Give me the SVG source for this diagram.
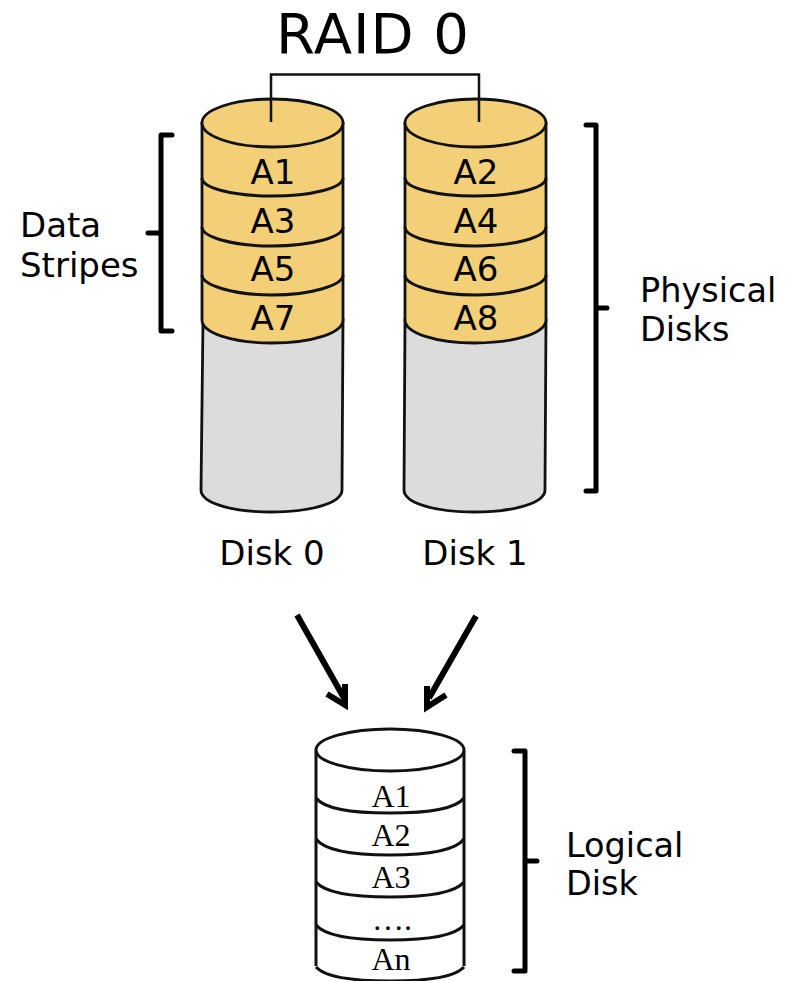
<svg xmlns="http://www.w3.org/2000/svg" width="787" height="981" viewBox="0 0 787 981">
<style>
.s{stroke:#111;stroke-width:3;fill:none}
.y{fill:#f3d078;stroke:#111;stroke-width:2.8}
.g{fill:#dcdcdc;stroke:#111;stroke-width:2.8}
.b{stroke:#000;stroke-width:5;fill:none;stroke-linecap:round;stroke-linejoin:round}
.a{stroke:#000;stroke-width:6;fill:none;stroke-linejoin:miter}
.t{font-family:"DejaVu Sans",sans-serif;fill:#000}
.l{font-size:33.500px}
.l2{font-size:34px}
.d{font-size:34px;text-anchor:middle}
.k{font-size:34px;text-anchor:middle}
.r{font-family:"Liberation Serif",serif;font-size:32px;text-anchor:middle;fill:#000}
</style>
<rect width="787" height="981" fill="#fff"/>
<text class="t" x="373" y="53" font-size="56" letter-spacing="1" text-anchor="middle">RAID 0</text>
<g id="disk0">
<path class="g" d="M203 320L201 490C201 503 232 512 271 512C311 512 342 503 342 490L343 320Z"/>
<path class="y" d="M202 123V320C202 333 233 343 272 343C312 343 343 333 343 320V123Z"/>
<path class="s" d="M202 275C202 285 233 295 272 295C312 295 343 285 343 275M202 227C202 237 233 246 272 246C312 246 343 237 343 227M202 178C202 188 233 196 272 196C312 196 343 188 343 178"/>
<ellipse class="y" cx="272.500" cy="123" rx="70.500" ry="24"/>
<text class="t d" x="273" y="184">A1</text><text class="t d" x="273" y="233">A3</text><text class="t d" x="273" y="281">A5</text><text class="t d" x="273" y="330">A7</text>
<text class="t k" x="272" y="565">Disk 0</text>
</g>
<g id="disk1">
<path class="g" d="M405 320L404 490C404 503 435 512 474 512C514 512 545 503 545 490L546 320Z"/>
<path class="y" d="M405 123V320C405 333 436 343 475 343C515 343 546 333 546 320V123Z"/>
<path class="s" d="M405 275C405 285 436 295 475 295C515 295 546 285 546 275M405 227C405 237 436 246 475 246C515 246 546 237 546 227M405 178C405 188 436 196 475 196C515 196 546 188 546 178"/>
<ellipse class="y" cx="475.500" cy="123" rx="70.500" ry="24"/>
<text class="t d" x="476" y="184">A2</text><text class="t d" x="476" y="233">A4</text><text class="t d" x="476" y="281">A6</text><text class="t d" x="476" y="330">A8</text>
<text class="t k" x="475" y="565">Disk 1</text>
</g>
<g id="logical">
<path class="s" d="M316 751V966M464 751V966"/>
<ellipse class="s" cx="390" cy="750" rx="74" ry="21"/>
<path class="s" d="M316 798C325 810 355 813 390 813C425 813 455 810 464 798M316 839C325 851 355 855 390 855C425 855 455 851 464 839M316 882C325 893 355 897 390 897C425 897 455 893 464 882M316 925C325 936 355 940 390 940C425 940 455 936 464 925M316 967C325 977 355 981 390 981C425 981 455 977 464 967"/>
<text class="r" x="391" y="807">A1</text><text class="r" x="391" y="846">A2</text><text class="r" x="391" y="888">A3</text><text class="r" x="392" y="930">….</text><text class="r" x="391" y="970">An</text>
</g>
<g id="labels">
<text class="t l2" x="20" y="237">Data</text><text class="t l2" x="20" y="277">Stripes</text>
<text class="t l" x="640" y="302">Physical</text><text class="t l" x="640" y="341">Disks</text>
<text class="t l" x="566" y="857">Logical</text><text class="t l" x="566" y="895">Disk</text>
</g>
<g id="connectors">
<path d="M271 122V74.500H479V122" fill="none" stroke="#111" stroke-width="2.500"/>
<path class="b" d="M172 135H161V331H172M148 233H161"/>
<path class="b" d="M586 125H596V491H586M596 308H607"/>
<path class="b" d="M514 751H525V971H514M525 861H537"/>
<path class="a" d="M297 615L344 698"/>
<path class="a" d="M345 684V705L327 694"/>
<path class="a" d="M476 616L429 698"/>
<path class="a" d="M427 686V707L446 695"/>
</g>
</svg>
